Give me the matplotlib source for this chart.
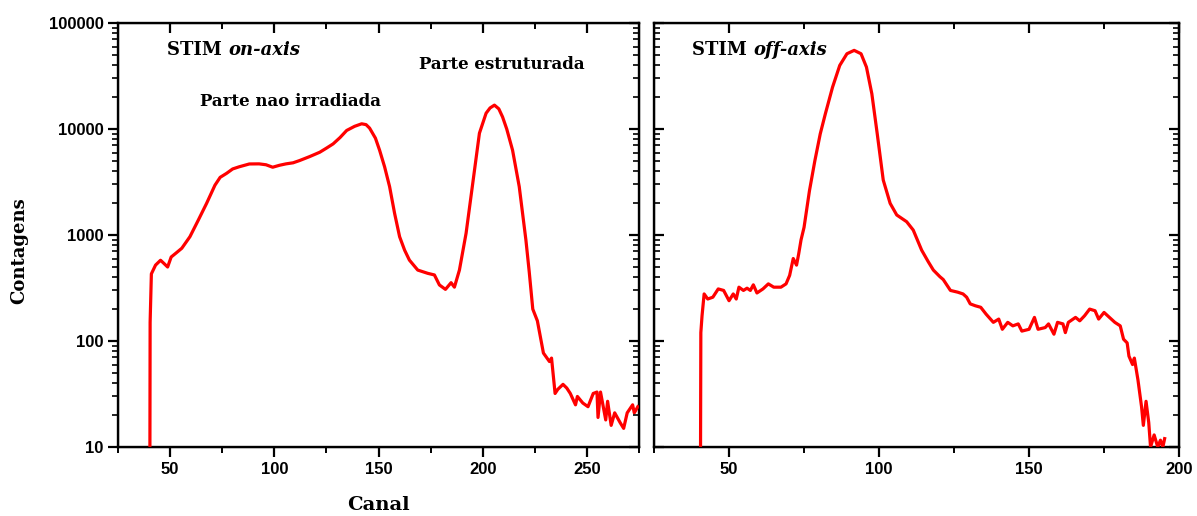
import matplotlib
matplotlib.use("Agg")
import matplotlib.pyplot as plt
from matplotlib.font_manager import FontProperties
from matplotlib.ticker import FixedLocator, FuncFormatter, LogLocator, MultipleLocator, NullFormatter

# --- data (channel, counts) ---
on_ch = [40.3, 40.4, 41.0, 43.0, 45.4, 47.0, 48.8, 50.5, 53.0, 55.6, 59.5, 63.5,
         67.5, 71.5, 74.0, 77.1, 80.0, 83.1, 88.0, 92.7, 96.0, 99.2, 102.5,
         105.6, 109.0, 112.1, 117.0, 121.8, 125.0, 128.2, 131.5, 134.7, 138.5,
         141.9, 144.0, 145.7, 148.5, 150.5, 152.9, 155.3, 157.7, 160.1, 162.5,
         164.8, 168.8, 173.6, 176.8, 179.2, 182.1, 184.8, 186.4, 188.8, 192.0,
         195.2, 198.4, 201.6, 203.5, 205.6, 207.7, 209.5, 211.5, 214.3,
         217.5, 220.7, 222.3, 224.0, 226.2, 229.1, 232.0, 233.0,
         234.7, 236.0, 238.5, 240.3, 242.0, 244.5, 245.4, 248.0, 250.5, 253.0,
         254.8, 255.3, 256.5, 259.0, 259.9, 261.6, 263.3, 265.9, 267.6, 269.3,
         271.9, 272.7, 274.4]
on_cts = [10, 150, 430, 520, 578, 540, 499, 620, 680, 750, 964, 1380,
          1990, 2950, 3500, 3820, 4200, 4400, 4680, 4690, 4600, 4360, 4550,
          4690, 4800, 5040, 5500, 6040, 6600, 7240, 8300, 9690, 10600,
          11200, 11000, 10200, 8200, 6310, 4400, 2860, 1600, 964, 720,
          580, 467, 435, 420, 338, 307, 355, 322, 467, 1040,
          3080, 9130, 14100, 15800, 16800, 15500, 13000, 10000, 6310,
          2860, 897, 448, 200, 155, 77, 64, 69,
          32, 35, 39, 36, 32, 25, 30, 26, 24, 32,
          33, 19, 33, 18, 27, 16, 21, 17, 15, 21,
          25, 21, 24]

off_ch = [40.5, 40.6, 41.0, 41.7, 42.9, 44.6, 46.4, 48.2, 50.0, 51.4, 52.4, 53.3,
          54.8, 56.0, 57.1, 58.1, 59.3, 61.3, 63.1, 64.9, 67.3, 69.0, 70.2, 71.4,
          72.5, 73.2, 74.0, 75.0, 76.8, 78.6, 80.4, 82.1, 84.5, 86.9, 89.3, 91.7,
          94.0, 95.8, 97.6, 99.4, 101.4, 103.7, 105.9, 109.2, 111.4,
          114.2, 116.4, 118.1, 120.3, 121.4, 123.8, 126.2, 128.0, 129.2, 130.4,
          132.1, 133.9, 135.7, 138.1, 139.9, 141.1, 142.9, 144.6, 146.4, 147.6,
          150.0, 151.8, 153.0, 155.4, 156.5, 158.3, 159.5, 161.3, 162.1, 163.1,
          165.5, 166.9, 168.5, 170.2, 172.0, 173.2, 175.0, 176.8, 178.6, 180.4,
          181.5, 182.7, 183.3, 184.5, 185.1, 186.3, 187.5, 188.1, 189.0, 189.9,
          190.5, 191.7, 192.9, 193.8, 194.6, 195.2]
off_cts = [10, 120, 173, 278, 249, 259, 310, 300, 240, 278, 249, 322,
           300, 315, 300, 339, 284, 310, 346, 322, 322, 346, 416, 600,
           520, 660, 900, 1180, 2610, 5010, 9000, 13900, 24800, 39800, 51300, 55200,
           51300, 38400, 21500, 9000, 3300, 1990, 1545, 1335, 1113,
           720, 560, 467, 404, 380, 300, 289, 278, 259, 224,
           215, 208, 179, 150, 161, 129, 150, 139, 145, 124,
           129, 167, 129, 134, 145, 116, 150, 145, 120, 150,
           167, 155, 173, 200, 193, 161, 186, 167, 150, 139,
           104, 96, 72, 60, 69, 43, 24, 16, 27, 17,
           10, 13, 10, 11.6, 10, 12]

y_ticks = [10, 100, 1000, 10000, 100000]
left_xticks = [50, 100, 150, 200, 250]
right_xticks = [50, 100, 150, 200]

RED = "#ff0000"
TICK_FONT = FontProperties(family="Liberation Sans", weight="bold", size=12)
SERIF = "DejaVu Serif"

fig = plt.figure(figsize=(11.97, 5.16), dpi=100)
ax_l = fig.add_axes([0.0986, 0.1337, 0.4353, 0.8217])
ax_r = fig.add_axes([0.5464, 0.1337, 0.4386, 0.8217])


def style(ax, xlim, xticks, left_out):
    ax.set_yscale("log")
    ax.set_ylim(10, 100000)
    ax.set_xlim(*xlim)
    ax.xaxis.set_major_locator(FixedLocator(xticks))
    ax.xaxis.set_minor_locator(MultipleLocator(25))
    ax.yaxis.set_major_locator(FixedLocator(y_ticks))
    ax.yaxis.set_minor_locator(LogLocator(base=10, subs=range(2, 10), numticks=20))
    ax.yaxis.set_minor_formatter(NullFormatter())
    for s in ax.spines.values():
        s.set_linewidth(1.7)
    ax.tick_params(axis="x", which="major", direction="out", length=7, width=1.6,
                   top=False)
    ax.tick_params(axis="x", which="minor", direction="out", length=4.5, width=1.4,
                   top=False)
    ydir = "out" if left_out else "in"
    ax.tick_params(axis="y", which="major", direction=ydir, length=7, width=1.6,
                   right=False)
    ax.tick_params(axis="y", which="minor", direction=ydir, length=4, width=1.2,
                   right=False)
    for lab in ax.get_xticklabels():
        lab.set_fontproperties(TICK_FONT)
    # mirrored ticks pointing inward on top and right
    top = ax.twiny()
    top.set_xlim(*xlim)
    top.xaxis.set_major_locator(MultipleLocator(50))
    top.xaxis.set_minor_locator(MultipleLocator(25))
    top.tick_params(axis="x", which="major", direction="in", length=7, width=1.6,
                    labeltop=False)
    top.tick_params(axis="x", which="minor", direction="in", length=4.5, width=1.4)
    rgt = ax.twinx()
    rgt.set_yscale("log")
    rgt.set_ylim(10, 100000)
    rgt.yaxis.set_major_locator(FixedLocator(y_ticks))
    rgt.yaxis.set_minor_locator(LogLocator(base=10, subs=range(2, 10), numticks=20))
    rgt.tick_params(axis="y", which="major", direction="in", length=7, width=1.6,
                    labelright=False)
    rgt.tick_params(axis="y", which="minor", direction="in", length=4, width=1.2,
                    labelright=False)
    rgt.yaxis.set_minor_formatter(NullFormatter())


style(ax_l, (25, 275), left_xticks, True)
style(ax_r, (25, 200), right_xticks, False)

ax_l.yaxis.set_major_formatter(FuncFormatter(lambda v, p: f"{int(round(v))}"))
for lab in ax_l.get_yticklabels():
    lab.set_fontproperties(TICK_FONT)
ax_r.tick_params(axis="y", labelleft=False)

ax_l.plot(on_ch, on_cts, color=RED, lw=2.3, zorder=5)
ax_r.plot(off_ch, off_cts, color=RED, lw=2.3, zorder=5)

# annotations
t1 = ax_l.text(48.5, 55600, "STIM ", family=SERIF, weight="bold", size=13,
               va="center", ha="left")
ax_l.annotate("on-axis", xy=(1, 0), xycoords=t1, family=SERIF, weight="bold",
              style="italic", size=13, va="bottom", ha="left")
ax_l.text(64.3, 18000, "Parte nao irradiada", family=SERIF, weight="bold", size=12,
          va="center", ha="left")
ax_l.text(169.6, 40200, "Parte estruturada", family=SERIF, weight="bold", size=12,
          va="center", ha="left")
t2 = ax_r.text(37.7, 55600, "STIM ", family=SERIF, weight="bold", size=13,
               va="center", ha="left")
ax_r.annotate("off-axis", xy=(1, 0), xycoords=t2, family=SERIF, weight="bold",
              style="italic", size=13, va="bottom", ha="left")

fig.text(0.016, 0.515, "Contagens", rotation=90, family=SERIF, weight="bold",
         size=13, va="center", ha="center")
fig.text(0.316, 0.022, "Canal", family=SERIF, weight="bold", size=14,
         va="center", ha="center")

fig.savefig("out.png", dpi=100)
